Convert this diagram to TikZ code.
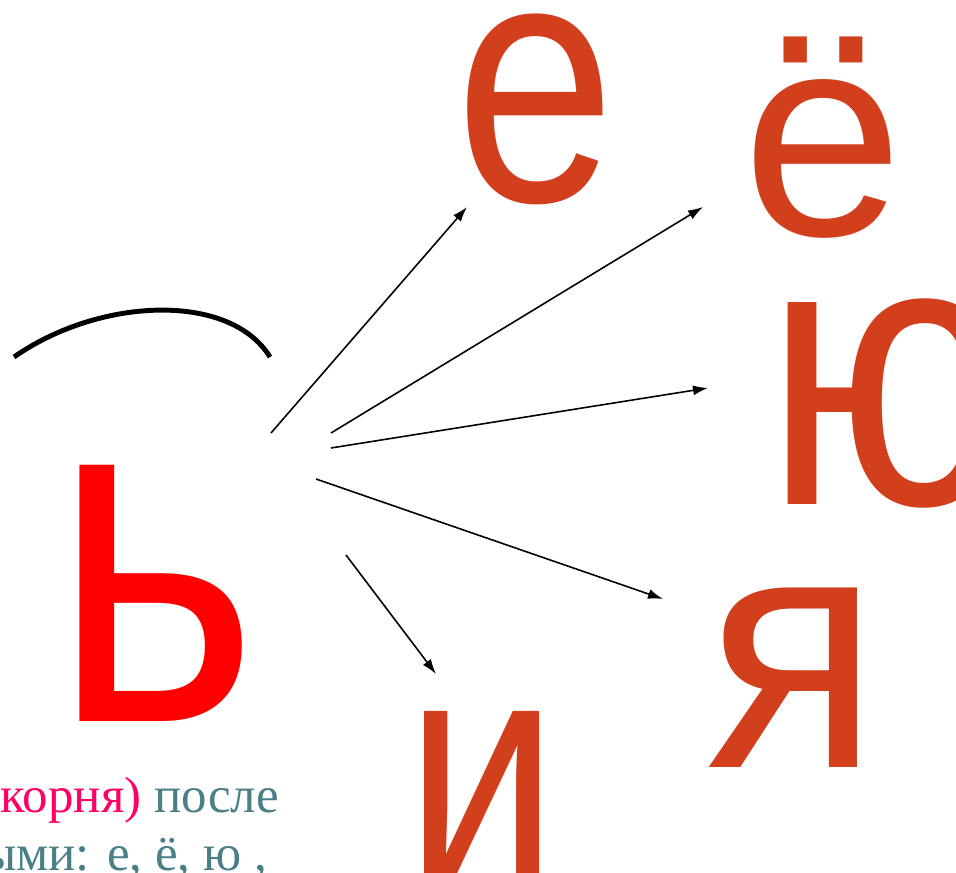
\documentclass[tikz,border=0pt]{standalone}
\usepackage{fontspec}
\setmainfont{Liberation Serif}
\newfontfamily\vowelfont{Liberation Sans}
\usepackage{graphicx}
\usepackage{xcolor}
\usepackage{tikz}
\usetikzlibrary{arrows.meta}
\definecolor{softsign}{HTML}{FF0000}
\definecolor{vowelred}{HTML}{D23F1D}
\definecolor{rootpink}{HTML}{FF0066}
\definecolor{ruleteal}{HTML}{4A7F87}
% one tall letter, x size and vertical stretch
\newcommand{\vowelglyph}[3]{\scalebox{1}[#2]{\vowelfont\fontsize{#1}{#1}\selectfont #3}}

\begin{document}
\begin{tikzpicture}[x=0.02cm,y=0.02cm,>={Latex[length=3mm,width=2mm]}]
\tikzstyle{glyph}=[inner sep=0,outer sep=0,anchor=base,text=vowelred]
\tikzstyle{arr}=[->,line width=0.9pt]
\useasboundingbox (0,0) rectangle (956,872);
\node[glyph,text=softsign] (soft) at (155,151) {\vowelglyph{225pt}{1.227}{ь}};
\node[glyph] (ye) at (536,670) {\vowelglyph{164pt}{1.21}{е}};
\node[glyph] (yo) at (823,636) {\vowelglyph{165pt}{1.0}{ё}};
\node[glyph] (yu) at (888,367) {\vowelglyph{186pt}{1.17}{ю}};
\node[glyph] (ya) at (793,105) {\vowelglyph{182pt}{1.063}{я}};
\node[glyph] (i) at (482,-17) {\vowelglyph{156pt}{1.23}{и}};
% arc over the soft sign
\draw[line width=2.8pt] (14,515) .. controls (100,575) and (230,580) .. (270,515);
% arrows out to the vowels
\coordinate (outYe) at (271,439); \coordinate (inYe) at (467,665);
\coordinate (outYo) at (331,439); \coordinate (inYo) at (703,665);
\coordinate (outYu) at (331,424); \coordinate (inYu) at (708,484);
\coordinate (outYa) at (316,393); \coordinate (inYa) at (663,273);
\coordinate (outI) at (346,317); \coordinate (inI) at (436,198);
\draw[arr] (outYe)--(inYe);
\draw[arr] (outYo)--(inYo);
\draw[arr] (outYu)--(inYu);
\draw[arr] (outYa)--(inYa);
\draw[arr] (outI)--(inI);
% rule text, cut at the left edge
\node[anchor=base east,text=ruleteal,font=\fontsize{29pt}{35pt}\selectfont] (rule1) at (285,60) {{\color{rootpink}корня)} после};
\node[anchor=base east,text=ruleteal,font=\fontsize{29pt}{35pt}\selectfont] (rule2) at (273,2) {ыми: е, ё, ю ,};
\end{tikzpicture}
\end{document}
